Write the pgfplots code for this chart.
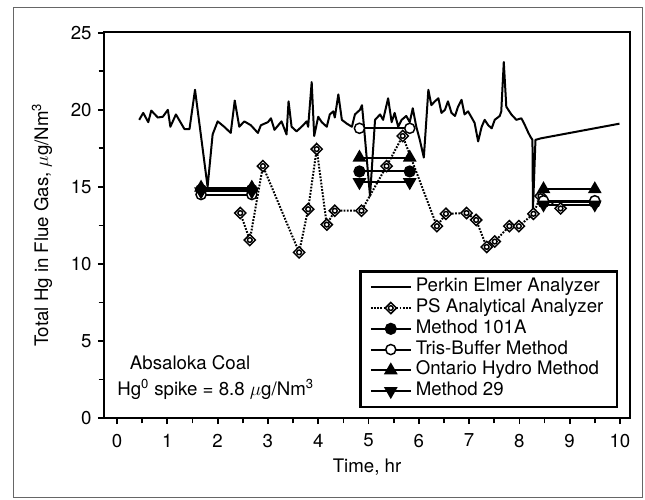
\documentclass[border=0pt]{standalone}
\usepackage{fontspec}
\setmainfont{TeX Gyre Heros}
\usepackage{pgfplots}
\pgfplotsset{compat=1.18}

\pgfdeclareplotmark{dio}{%
  \pgfpathmoveto{\pgfqpoint{0pt}{\pgfplotmarksize}}%
  \pgfpathlineto{\pgfqpoint{\pgfplotmarksize}{0pt}}%
  \pgfpathlineto{\pgfqpoint{0pt}{-\pgfplotmarksize}}%
  \pgfpathlineto{\pgfqpoint{-\pgfplotmarksize}{0pt}}%
  \pgfpathclose
  \pgfusepathqfillstroke
  \pgfpathcircle{\pgfpointorigin}{0.42\pgfplotmarksize}%
  \pgfusepathqstroke
}

\begin{document}
\fontsize{14}{17}\selectfont
\begin{tikzpicture}
\begin{axis}[
  scale only axis, width=394.5pt, height=289.5pt,
  xmin=-0.26, xmax=10.2, ymin=0, ymax=25.05,
  xtick={0,1,...,10}, ytick={0,5,...,25},
  minor x tick num=1, minor y tick num=1,
  xtick pos=bottom, ytick pos=left,
  tick align=outside,
  major tick length=4.5pt, minor tick length=4pt,
  tick style={black, line width=1.3pt},
  axis line style={line width=2pt},
  tick label style={font=\fontsize{14}{17}\selectfont},
  xticklabel style={yshift=-2.5pt},
  /pgf/number format/assume math mode=true,
  xlabel={Time, hr},
  ylabel={Total Hg in Flue Gas, $\mu$g/Nm\textsuperscript{3}},
  every axis x label/.style={at={(axis description cs:0.5,-0.127)}, anchor=center, font=\fontsize{14}{17}\selectfont},
  every axis y label/.style={at={(axis description cs:-0.118,0.5)}, anchor=center, rotate=90, font=\fontsize{14}{17}\selectfont},
  legend style={at={(axis description cs:0.977,0.026)}, anchor=south east,
    draw=black, line width=1.8pt, font=\fontsize{14}{17}\selectfont,
    inner xsep=7pt, inner ysep=4pt,
    nodes={inner ysep=1.2pt, inner xsep=3pt, text height=0.72em, text depth=0.22em}},
  legend cell align=left,
  legend image code/.code={\draw[mark repeat=2,mark phase=2,#1] plot coordinates {(0pt,0pt) (15pt,0pt) (30pt,0pt)};},
  unbounded coords=jump,
]
% Perkin Elmer Analyzer
\addplot[black, line width=1.5pt, line join=round] coordinates {
(0.44,19.35) (0.52,19.8) (0.62,19.2) (0.68,19.95) (0.81,19.5) (0.91,19.55)
(1.01,20.0) (1.06,18.9) (1.17,19.7) (1.34,18.75) (1.44,18.75) (1.55,21.3)
(1.80,15.0) (1.90,18.4) (2.00,19.25) (2.13,18.9) (2.26,18.5) (2.34,20.6)
(2.43,18.9) (2.53,19.25) (2.66,19.0) (2.80,18.5) (2.86,19.0) (3.00,19.2)
(3.06,19.45) (3.13,18.7) (3.27,19.25) (3.37,18.4) (3.41,20.55) (3.47,18.9)
(3.57,18.6) (3.70,19.0) (3.77,19.25) (3.80,18.9) (3.87,21.8) (3.92,18.3)
(4.00,19.55) (4.07,19.2) (4.17,18.9) (4.23,19.7) (4.30,19.9) (4.33,19.5)
(4.40,21.0) (4.47,19.35) (4.57,19.1) (4.67,18.9) (4.73,19.7) (4.83,20.0)
(4.87,20.3) (4.91,18.9) (5.03,14.4) (5.13,19.35) (5.23,19.7) (5.29,19.35)
(5.39,20.75) (5.46,19.2) (5.52,19.8) (5.59,18.9) (5.66,19.35) (5.75,19.6)
(5.82,19.2) (5.88,20.1) (5.95,18.9) (6.02,18.05) (6.10,16.9) (6.19,21.3)
(6.25,20.3) (6.32,20.55) (6.39,20.75) (6.45,19.8) (6.52,20.0) (6.58,20.55)
(6.65,19.8) (6.72,19.6) (6.78,20.2) (6.85,20.65) (6.91,19.7) (6.98,19.9)
(7.05,19.5) (7.11,19.15) (7.18,17.95) (7.25,18.9) (7.31,19.35) (7.38,19.0)
(7.45,18.8) (7.51,19.35) (7.61,19.6) (7.64,19.9) (7.69,23.1) (7.74,20.2)
(7.84,19.7) (7.94,19.35) (8.04,19.45) (8.11,19.0) (8.18,18.5) (8.22,18.25)
(8.26,18.05) (8.27,13.5) (8.32,18.05) (8.43,18.15) (9.99,19.1)
};
\addlegendentry{Perkin Elmer Analyzer}
% PS Analytical Analyzer
\addplot[black, line width=1.5pt, dash pattern=on 1.3pt off 1.1pt, mark=dio, mark size=4.2pt,
  mark options={solid, fill=white, line width=1.1pt}] coordinates {
(2.45,13.3) (2.64,11.55) (2.90,16.35) (3.62,10.75) (3.80,13.55) (3.97,17.45)
(4.17,12.55) (4.33,13.45) (4.86,13.45) (5.36,16.35) (5.68,18.3) (6.36,12.45)
(6.54,13.25) (6.95,13.3) (7.14,12.85) (7.35,11.1) (7.51,11.45) (7.80,12.45)
(7.99,12.45) (8.28,13.25) (8.42,14.4) (8.82,13.6)
};
\addlegendentry{PS Analytical Analyzer}
% Method 101A
\addplot[black, line width=1.5pt, mark=*, mark size=3.8pt, mark options={solid}] coordinates {
(1.67,14.8) (2.68,14.8) (2.68,nan) (4.82,16.0) (5.82,16.0) (5.82,nan) (8.48,14.0) (9.5,14.0)
};
\addlegendentry{Method 101A}
% Tris-Buffer Method
\addplot[black, line width=1.5pt, mark=*, mark size=3.8pt, mark options={solid, fill=white, line width=1.1pt}] coordinates {
(1.67,14.5) (2.68,14.5) (2.68,nan) (4.82,18.8) (5.82,18.8) (5.82,nan) (8.48,14.1) (9.5,14.1)
};
\addlegendentry{Tris-Buffer Method}
% Ontario Hydro Method
\addplot[black, line width=1.5pt, mark=triangle*, mark size=4.5pt, mark options={solid}] coordinates {
(1.67,14.95) (2.68,14.95) (2.68,nan) (4.82,16.9) (5.82,16.9) (5.82,nan) (8.48,14.85) (9.5,14.85)
};
\addlegendentry{Ontario Hydro Method}
% Method 29
\addplot[black, line width=1.5pt, mark=triangle*, mark size=4.5pt, mark options={solid, rotate=180}] coordinates {
(1.67,14.7) (2.68,14.7) (2.68,nan) (4.82,15.3) (5.82,15.3) (5.82,nan) (8.48,13.85) (9.5,13.85)
};
\addlegendentry{Method 29}
\node[anchor=west, inner sep=0pt, font=\fontsize{14}{17}\selectfont] at (axis cs:0.25,3.6) {Absaloka Coal};
\node[anchor=west, inner sep=0pt, font=\fontsize{14}{17}\selectfont] at (axis cs:0.0,1.85) {Hg\textsuperscript{0} spike = 8.8 $\mu$g/Nm\textsuperscript{3}};
\coordinate (SW) at (rel axis cs:0,0);
\coordinate (NE) at (rel axis cs:1,1);
\end{axis}
\draw[black!60, line width=0.75pt] ([shift={(-67.5pt,-59.25pt)}]SW) rectangle ([shift={(9pt,18pt)}]NE);
\path ([shift={(-78pt,-60.75pt)}]SW) rectangle ([shift={(11.25pt,24pt)}]NE);
\end{tikzpicture}
\end{document}
